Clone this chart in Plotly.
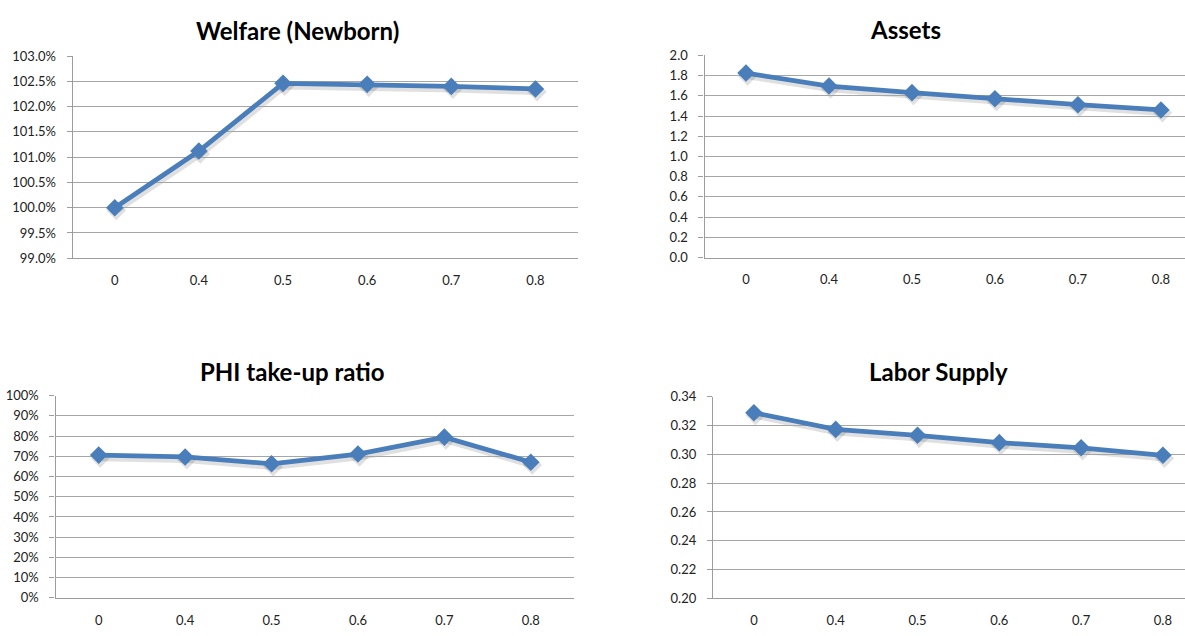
import plotly.graph_objects as go

W, H = 1185, 636

categories = ["0", "0.4", "0.5", "0.6", "0.7", "0.8"]

welfare_newborn = [1.0000, 1.0112, 1.0246, 1.0244, 1.0240, 1.0235]
assets = [1.826, 1.697, 1.632, 1.571, 1.513, 1.461]
phi_takeup = [0.706, 0.697, 0.663, 0.711, 0.795, 0.671]
labor_supply = [0.3289, 0.3173, 0.3132, 0.3081, 0.3045, 0.2993]

titles = ["Welfare (Newborn)", "Assets", "PHI take-up ratio", "Labor Supply"]

LINE = "#4A7EBB"
SHADOW = "rgba(0,0,0,0.12)"
GRID = "#A6A6A6"
AXIS = "#9C9C9C"
FONT = "Lato"

# plotting-area bounds in pixels (left, right, top, bottom) and the x extent
panels = [
    dict(l=72.7, r=577.5, t=49.3, b=256.7, x_end=5.5),
    dict(l=704.5, r=1185, t=48.7, b=256.0, x_end=5.29),
    dict(l=55.5, r=574.0, t=397.7, b=605.0, x_end=5.5),
    dict(l=713.0, r=1185, t=398.7, b=605.7, x_end=5.27),
]
title_pos = [(297, 23), (905, 22), (292, 373), (938, 373)]

series = [welfare_newborn, assets, phi_takeup, labor_supply]
y_axes = [
    dict(range=[0.99, 1.03], dtick=0.005, tickformat=".1%"),
    dict(range=[0.0, 2.0], dtick=0.2, tickformat=".1f"),
    dict(range=[0.0, 1.0], dtick=0.1, tickformat=".0%"),
    dict(range=[0.20, 0.34], dtick=0.02, tickformat=".2f"),
]

# drop-shadow offset of the series, in pixels
SHX, SHY = 1.5, 3.0


def suffix(k):
    return "" if k == 1 else str(k)


fig = go.Figure()
annotations = []
xs = list(range(len(categories)))
for i, (p, vals, ya) in enumerate(zip(panels, series, y_axes)):
    s = suffix(i + 1)   # hidden shadow subplot, drawn first
    n = suffix(i + 5)   # visible subplot, drawn on top

    x_dom = [p["l"] / W, min(p["r"] / W, 1.0)]
    y_dom = [1 - p["b"] / H, 1 - p["t"] / H]

    # shadow layer: same data on hidden axes shifted a few pixels right/down
    dx, dy = SHX / W, SHY / H
    sx_dom = [x_dom[0] + dx, min(x_dom[1] + dx, 1.0)]
    x_span = p["x_end"] + 0.5
    sx_end = -0.5 + x_span * (sx_dom[1] - sx_dom[0]) / (x_dom[1] - x_dom[0])
    fig.add_trace(go.Scatter(
        x=xs, y=vals, mode="lines+markers",
        line=dict(color=SHADOW, width=6.5),
        marker=dict(symbol="diamond", size=15, color=SHADOW),
        xaxis="x" + s, yaxis="y" + s,
        showlegend=False, hoverinfo="skip",
    ))
    fig.layout["xaxis" + s] = dict(
        domain=sx_dom, range=[-0.5, sx_end],
        visible=False, anchor="y" + s, fixedrange=True,
    )
    fig.layout["yaxis" + s] = dict(
        domain=[y_dom[0] - dy, y_dom[1] - dy], range=ya["range"],
        visible=False, anchor="x" + s, fixedrange=True,
    )

    # the series itself
    fig.add_trace(go.Scatter(
        x=xs, y=vals,
        mode="lines+markers",
        line=dict(color=LINE, width=4.8),
        marker=dict(symbol="diamond", size=13.5, color=LINE),
        xaxis="x" + n, yaxis="y" + n,
        showlegend=False, hoverinfo="skip",
    ))
    fig.layout["xaxis" + n] = dict(
        domain=x_dom,
        range=[-0.5, p["x_end"]],
        tickmode="array", tickvals=xs, ticktext=categories,
        showgrid=False, zeroline=False,
        showline=True, linecolor=AXIS, linewidth=1.3,
        ticks="", ticklabelstandoff=10,
        tickfont=dict(family=FONT, size=13, color="#222222"),
        anchor="y" + n, fixedrange=True,
    )
    fig.layout["yaxis" + n] = dict(
        domain=y_dom,
        range=ya["range"], dtick=ya["dtick"], tick0=ya["range"][0],
        tickformat=ya["tickformat"],
        showgrid=True, gridcolor=GRID, gridwidth=1.2,
        zeroline=False,
        showline=True, linecolor=AXIS, linewidth=1.3,
        ticks="outside", ticklen=5, tickcolor=AXIS, tickwidth=1.2,
        ticklabelstandoff=8,
        tickfont=dict(family=FONT, size=13, color="#222222"),
        anchor="x" + n, fixedrange=True,
    )

    tx, ty = title_pos[i]
    annotations.append(dict(
        text="<b>" + titles[i] + "</b>",
        x=tx / W, y=1 - ty / H, xref="paper", yref="paper",
        xanchor="center", yanchor="middle", showarrow=False,
        font=dict(family=FONT, size=24, color="#000000"),
    ))

fig.update_layout(
    width=W, height=H,
    margin=dict(l=0, r=0, t=0, b=0),
    paper_bgcolor="white", plot_bgcolor="rgba(0,0,0,0)",
    annotations=annotations,
)

fig.write_html("out.html")
